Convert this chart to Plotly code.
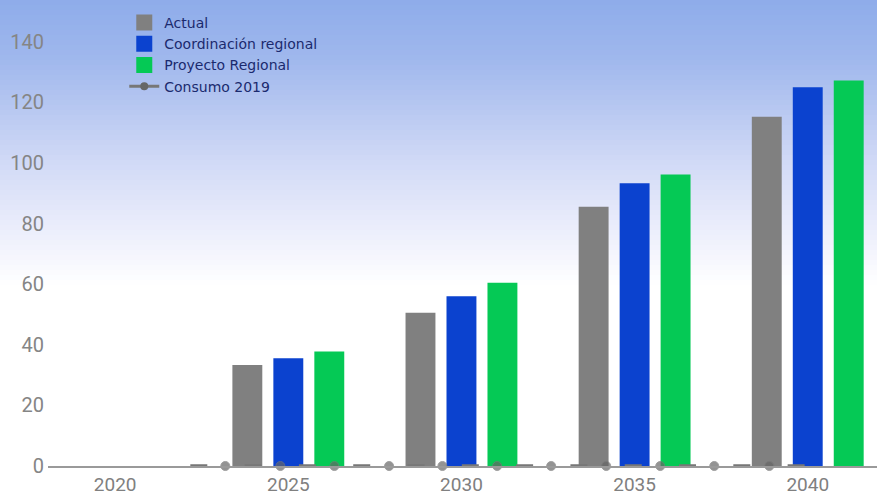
import plotly.graph_objects as go

# ---- data ----
years = [2025, 2030, 2035, 2040]
actual = [33.3, 50.6, 85.6, 115.3]
coordinacion = [35.6, 56.0, 93.3, 125.0]
proyecto = [37.8, 60.5, 96.2, 127.2]
consumo_x = [2022.17, 2023.18, 2024.77, 2026.33, 2027.91, 2029.45, 2031.03,
             2032.59, 2034.18, 2035.74, 2037.30, 2038.89, 2039.93]
consumo_y = [0] * len(consumo_x)
x_ticks = [2020, 2025, 2030, 2035, 2040]
y_ticks = [0, 20, 40, 60, 80, 100, 120, 140]

names = ["Actual", "Coordinación regional", "Proyecto Regional", "Consumo 2019"]
colors = ["#808080", "#0b42cf", "#05c955", "#6b6b6b"]

fig = go.Figure()
for vals, name, col in zip([actual, coordinacion, proyecto], names[:3], colors[:3]):
    fig.add_trace(go.Bar(x=years, y=vals, name=name, marker_color=col,
                         marker_line_width=0, showlegend=False))

msizes = [0] + [9] * (len(consumo_x) - 2) + [0]
fig.add_trace(go.Scatter(x=consumo_x, y=consumo_y, mode="lines+markers",
                         name=names[3], showlegend=False,
                         line=dict(color="#777777", width=3.5, dash="17px,37.3px"),
                         marker=dict(size=msizes, color="#666666"),
                         cliponaxis=False))

# legend-only entries
for name, col in zip(names[:3], colors[:3]):
    fig.add_trace(go.Scatter(x=[None], y=[None], mode="markers", name=name,
                             marker=dict(symbol="square", size=17, color=col)))
fig.add_trace(go.Scatter(x=[None], y=[None], mode="lines+markers", name=names[3],
                         line=dict(color="#777777", width=3),
                         marker=dict(size=8, color="#666666")))

# gradient background via stacked strips
stops = [(0, (142, 172, 234)), (60, (160, 184, 237)), (110, (184, 200, 241)),
         (160, (208, 217, 246)), (210, (228, 232, 250)), (250, (243, 244, 253)),
         (285, (255, 255, 255))]
H = 466.0
def color_at(py):
    for (p0, c0), (p1, c1) in zip(stops[:-1], stops[1:]):
        if p0 <= py <= p1:
            t = (py - p0) / (p1 - p0)
            return tuple(round(a + (b - a) * t) for a, b in zip(c0, c1))
    return stops[-1][1]
shapes = []
step = 5
for py in range(0, 290, step):
    c = color_at(py + step / 2)
    shapes.append(dict(type="rect", xref="paper", yref="paper",
                       x0=-0.1, x1=1.1, y0=1 - (py + step + 0.5) / H, y1=1 - py / H,
                       fillcolor="rgb(%d,%d,%d)" % c, line_width=0, layer="below"))

fig.update_layout(
    width=877, height=495,
    margin=dict(l=48, r=0, t=0, b=29),
    paper_bgcolor="white", plot_bgcolor="rgba(0,0,0,0)",
    barmode="group", bargap=0.29, bargroupgap=0.27,
    shapes=shapes,
    font=dict(family="Roboto, sans-serif"),
    legend=dict(x=0.092, y=0.985, xanchor="left", yanchor="top",
                bgcolor="rgba(0,0,0,0)",
                font=dict(size=14, color="#1b2a6e", family="DejaVu Sans, sans-serif"),
                tracegroupgap=0, itemwidth=30),
    xaxis=dict(range=[2018.06, 2042.0], tickvals=x_ticks, showgrid=False,
               zeroline=False, showline=True, linecolor="#9a9a9a", linewidth=1.5,
               ticks="", ticklabelstandoff=0, automargin=False,
               tickfont=dict(size=19, color="#808080")),
    yaxis=dict(range=[0, 153.8], tickvals=y_ticks, showgrid=False, zeroline=False,
               showline=False, ticks="", ticklabelstandoff=3, automargin=False,
               tickfont=dict(size=20, color="#858585")),
)

fig.write_html("out.html", config={"displayModeBar": False},
               post_script="document.body.style.margin='0';")
